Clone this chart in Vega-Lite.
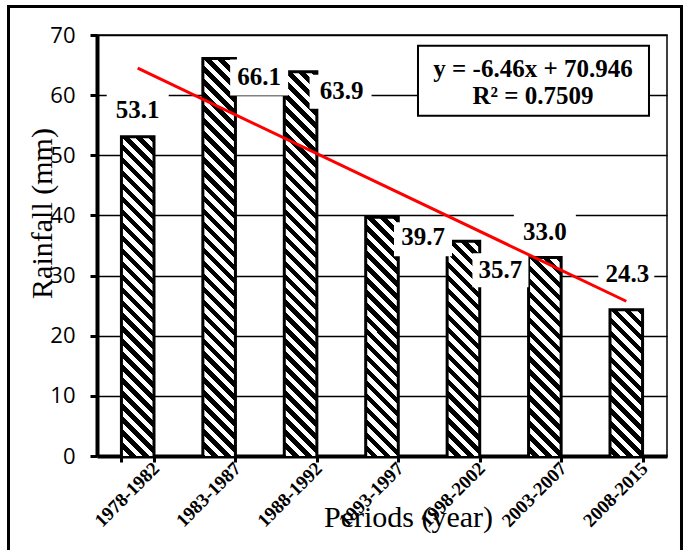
{
  "$schema": "https://vega.github.io/schema/vega-lite/v6.json",
  "width": 570,
  "height": 421,
  "autosize": {"type": "none"},
  "padding": {"left": 97, "top": 35, "right": 19, "bottom": 94},
  "background": "white",
  "config": {"view": {"stroke": "black", "strokeWidth": 1.5}, "font": "Liberation Serif"},
  "data": {"values": [
    {"period": "1978-1982", "rainfall": 53.1},
    {"period": "1983-1987", "rainfall": 66.1},
    {"period": "1988-1992", "rainfall": 63.9},
    {"period": "1993-1997", "rainfall": 39.7},
    {"period": "1998-2002", "rainfall": 35.7},
    {"period": "2003-2007", "rainfall": 33.0},
    {"period": "2008-2015", "rainfall": 24.3}
  ]},
  "layer": [
    {
      "mark": {"type": "bar", "clip": true, "y2Offset": 421, "stroke": "black", "strokeWidth": 3,
        "fill": {"gradient": "linear", "x1": 1, "y1": 0, "x2": 0.9171, "y2": 1.0709, "stops": [
          {"offset":0,"color":"#000"},
          {"offset":0.0143,"color":"#000"},{"offset":0.0143,"color":"#fff"},
          {"offset":0.0286,"color":"#fff"},{"offset":0.0286,"color":"#000"},
          {"offset":0.0429,"color":"#000"},{"offset":0.0429,"color":"#fff"},
          {"offset":0.0571,"color":"#fff"},{"offset":0.0571,"color":"#000"},
          {"offset":0.0714,"color":"#000"},{"offset":0.0714,"color":"#fff"},
          {"offset":0.0857,"color":"#fff"},{"offset":0.0857,"color":"#000"},
          {"offset":0.1,"color":"#000"},{"offset":0.1,"color":"#fff"},
          {"offset":0.1143,"color":"#fff"},{"offset":0.1143,"color":"#000"},
          {"offset":0.1286,"color":"#000"},{"offset":0.1286,"color":"#fff"},
          {"offset":0.1429,"color":"#fff"},{"offset":0.1429,"color":"#000"},
          {"offset":0.1571,"color":"#000"},{"offset":0.1571,"color":"#fff"},
          {"offset":0.1714,"color":"#fff"},{"offset":0.1714,"color":"#000"},
          {"offset":0.1857,"color":"#000"},{"offset":0.1857,"color":"#fff"},
          {"offset":0.2,"color":"#fff"},{"offset":0.2,"color":"#000"},
          {"offset":0.2143,"color":"#000"},{"offset":0.2143,"color":"#fff"},
          {"offset":0.2286,"color":"#fff"},{"offset":0.2286,"color":"#000"},
          {"offset":0.2429,"color":"#000"},{"offset":0.2429,"color":"#fff"},
          {"offset":0.2571,"color":"#fff"},{"offset":0.2571,"color":"#000"},
          {"offset":0.2714,"color":"#000"},{"offset":0.2714,"color":"#fff"},
          {"offset":0.2857,"color":"#fff"},{"offset":0.2857,"color":"#000"},
          {"offset":0.3,"color":"#000"},{"offset":0.3,"color":"#fff"},
          {"offset":0.3143,"color":"#fff"},{"offset":0.3143,"color":"#000"},
          {"offset":0.3286,"color":"#000"},{"offset":0.3286,"color":"#fff"},
          {"offset":0.3429,"color":"#fff"},{"offset":0.3429,"color":"#000"},
          {"offset":0.3571,"color":"#000"},{"offset":0.3571,"color":"#fff"},
          {"offset":0.3714,"color":"#fff"},{"offset":0.3714,"color":"#000"},
          {"offset":0.3857,"color":"#000"},{"offset":0.3857,"color":"#fff"},
          {"offset":0.4,"color":"#fff"},{"offset":0.4,"color":"#000"},
          {"offset":0.4143,"color":"#000"},{"offset":0.4143,"color":"#fff"},
          {"offset":0.4286,"color":"#fff"},{"offset":0.4286,"color":"#000"},
          {"offset":0.4429,"color":"#000"},{"offset":0.4429,"color":"#fff"},
          {"offset":0.4571,"color":"#fff"},{"offset":0.4571,"color":"#000"},
          {"offset":0.4714,"color":"#000"},{"offset":0.4714,"color":"#fff"},
          {"offset":0.4857,"color":"#fff"},{"offset":0.4857,"color":"#000"},
          {"offset":0.5,"color":"#000"},{"offset":0.5,"color":"#fff"},
          {"offset":0.5143,"color":"#fff"},{"offset":0.5143,"color":"#000"},
          {"offset":0.5286,"color":"#000"},{"offset":0.5286,"color":"#fff"},
          {"offset":0.5429,"color":"#fff"},{"offset":0.5429,"color":"#000"},
          {"offset":0.5571,"color":"#000"},{"offset":0.5571,"color":"#fff"},
          {"offset":0.5714,"color":"#fff"},{"offset":0.5714,"color":"#000"},
          {"offset":0.5857,"color":"#000"},{"offset":0.5857,"color":"#fff"},
          {"offset":0.6,"color":"#fff"},{"offset":0.6,"color":"#000"},
          {"offset":0.6143,"color":"#000"},{"offset":0.6143,"color":"#fff"},
          {"offset":0.6286,"color":"#fff"},{"offset":0.6286,"color":"#000"},
          {"offset":0.6429,"color":"#000"},{"offset":0.6429,"color":"#fff"},
          {"offset":0.6571,"color":"#fff"},{"offset":0.6571,"color":"#000"},
          {"offset":0.6714,"color":"#000"},{"offset":0.6714,"color":"#fff"},
          {"offset":0.6857,"color":"#fff"},{"offset":0.6857,"color":"#000"},
          {"offset":0.7,"color":"#000"},{"offset":0.7,"color":"#fff"},
          {"offset":0.7143,"color":"#fff"},{"offset":0.7143,"color":"#000"},
          {"offset":0.7286,"color":"#000"},{"offset":0.7286,"color":"#fff"},
          {"offset":0.7429,"color":"#fff"},{"offset":0.7429,"color":"#000"},
          {"offset":0.7571,"color":"#000"},{"offset":0.7571,"color":"#fff"},
          {"offset":0.7714,"color":"#fff"},{"offset":0.7714,"color":"#000"},
          {"offset":0.7857,"color":"#000"},{"offset":0.7857,"color":"#fff"},
          {"offset":0.8,"color":"#fff"},{"offset":0.8,"color":"#000"},
          {"offset":0.8143,"color":"#000"},{"offset":0.8143,"color":"#fff"},
          {"offset":0.8286,"color":"#fff"},{"offset":0.8286,"color":"#000"},
          {"offset":0.8429,"color":"#000"},{"offset":0.8429,"color":"#fff"},
          {"offset":0.8571,"color":"#fff"},{"offset":0.8571,"color":"#000"},
          {"offset":0.8714,"color":"#000"},{"offset":0.8714,"color":"#fff"},
          {"offset":0.8857,"color":"#fff"},{"offset":0.8857,"color":"#000"},
          {"offset":0.9,"color":"#000"},{"offset":0.9,"color":"#fff"},
          {"offset":0.9143,"color":"#fff"},{"offset":0.9143,"color":"#000"},
          {"offset":0.9286,"color":"#000"},{"offset":0.9286,"color":"#fff"},
          {"offset":0.9429,"color":"#fff"},{"offset":0.9429,"color":"#000"},
          {"offset":0.9571,"color":"#000"},{"offset":0.9571,"color":"#fff"},
          {"offset":0.9714,"color":"#fff"},{"offset":0.9714,"color":"#000"},
          {"offset":0.9857,"color":"#000"},{"offset":0.9857,"color":"#fff"},
          {"offset":1,"color":"#fff"}
        ]}},
      "encoding": {
        "x": {"field": "period", "type": "nominal",
          "scale": {"domain": ["1978-1982","1983-1987","1988-1992","1993-1997","1998-2002","2003-2007","2008-2015"], "paddingInner": 0.6, "paddingOuter": 0.3},
          "axis": {"title": "Periods (year)", "titleFont": "Liberation Serif", "titleFontSize": 30, "titleFontWeight": "normal", "titleColor": "black",
            "titleX": 311, "titleY": 70, "titleAlign": "center", "titleBaseline": "alphabetic",
            "labelAngle": -45, "labelAlign": "right", "labelBaseline": "middle", "labelFont": "Liberation Serif", "labelFontWeight": "bold", "labelFontSize": 19,
            "labelColor": "black", "labelOffset": 18, "labelPadding": 3, "labelOverlap": false, "labelBound": false,
            "tickBand": "extent", "tickSize": 6, "tickWidth": 3, "tickColor": "black", "domainColor": "black", "domainWidth": 4, "grid": false}},
        "y": {"field": "rainfall", "type": "quantitative",
          "scale": {"domain": [0, 70], "nice": false},
          "axis": {"title": "Rainfall (mm)", "titleFont": "Liberation Serif", "titleFontSize": 30, "titleFontWeight": "normal", "titleColor": "black",
            "titleX": -46, "titleY": 178, "titleAlign": "center", "titleBaseline": "alphabetic", "titleAngle": -90,
            "values": [0, 10, 20, 30, 40, 50, 60, 70], "labelFont": "Open Sans", "labelFontSize": 22, "labelColor": "black", "labelPadding": 15,
            "tickSize": 7, "tickWidth": 3, "tickColor": "black", "domainColor": "black", "domainWidth": 4,
            "grid": true, "gridColor": "black", "gridWidth": 1.5}},
        "y2": {"field": "rainfall"}
      }
    },
    {
      "data": {"values": [{}]},
      "mark": {"type": "rect", "fill": "transparent", "stroke": "black", "strokeWidth": 3},
      "encoding": {
        "x": {"datum": "1978-1982", "type": "nominal", "bandPosition": -3.467},
        "x2": {"datum": "2008-2015", "bandPosition": 2.195},
        "y": {"datum": 74.74, "type": "quantitative"},
        "y2": {"datum": -16.1}
      }
    },
    {
      "data": {"values": [{}]},
      "mark": {"type": "rect", "fill": "white", "stroke": "black", "strokeWidth": 2},
      "encoding": {
        "x": {"datum": "1998-2002", "type": "nominal", "bandPosition": -0.895},
        "x2": {"datum": "2008-2015", "bandPosition": 1.197},
        "y": {"datum": 68.22, "type": "quantitative"},
        "y2": {"datum": 56.58}
      }
    },
    {
      "data": {"values": [{}]},
      "mark": {"type": "text", "font": "Liberation Serif", "fontWeight": "bold", "fontSize": 25, "color": "black", "align": "center", "baseline": "middle"},
      "encoding": {
        "x": {"datum": "2003-2007", "type": "nominal", "bandPosition": 0.136},
        "y": {"datum": 64.35, "type": "quantitative"},
        "text": {"value": "y = -6.46x + 70.946"}
      }
    },
    {
      "data": {"values": [{}]},
      "mark": {"type": "text", "font": "Liberation Serif", "fontWeight": "bold", "fontSize": 25, "color": "black", "align": "center", "baseline": "middle"},
      "encoding": {
        "x": {"datum": "2003-2007", "type": "nominal", "bandPosition": 0.136},
        "y": {"datum": 59.86, "type": "quantitative"},
        "text": {"value": "R² = 0.7509"}
      }
    },
    {
      "transform": [{"filter": "datum.period === '1978-1982'"}],
      "encoding": {
        "x": {"field": "period", "type": "nominal"},
        "y": {"field": "rainfall", "type": "quantitative"}
      },
      "layer": [
        {"mark": {"type": "point", "shape": "M-31,-17H31V17H-31Z", "size": 4, "filled": true, "fill": "white", "opacity": 1, "strokeWidth": 0, "xOffset": 0, "yOffset": -27}},
        {"mark": {"type": "text", "font": "Liberation Serif", "fontWeight": "bold", "fontSize": 25, "color": "black", "align": "center", "baseline": "middle", "xOffset": 0, "yOffset": -27},
         "encoding": {"text": {"field": "rainfall", "type": "quantitative", "format": ".1f"}}}
      ]
    },
    {
      "transform": [{"filter": "datum.period === '1983-1987'"}],
      "encoding": {
        "x": {"field": "period", "type": "nominal"},
        "y": {"field": "rainfall", "type": "quantitative"}
      },
      "layer": [
        {"mark": {"type": "point", "shape": "M-29,-18H29V18H-29Z", "size": 4, "filled": true, "fill": "white", "opacity": 1, "strokeWidth": 0, "xOffset": 40, "yOffset": 19}},
        {"mark": {"type": "text", "font": "Liberation Serif", "fontWeight": "bold", "fontSize": 25, "color": "black", "align": "center", "baseline": "middle", "xOffset": 40, "yOffset": 19},
         "encoding": {"text": {"field": "rainfall", "type": "quantitative", "format": ".1f"}}}
      ]
    },
    {
      "transform": [{"filter": "datum.period === '1988-1992'"}],
      "encoding": {
        "x": {"field": "period", "type": "nominal"},
        "y": {"field": "rainfall", "type": "quantitative"}
      },
      "layer": [
        {"mark": {"type": "point", "shape": "M-31,-17H31V17H-31Z", "size": 4, "filled": true, "fill": "white", "opacity": 1, "strokeWidth": 0, "xOffset": 40, "yOffset": 20}},
        {"mark": {"type": "text", "font": "Liberation Serif", "fontWeight": "bold", "fontSize": 25, "color": "black", "align": "center", "baseline": "middle", "xOffset": 41, "yOffset": 19},
         "encoding": {"text": {"field": "rainfall", "type": "quantitative", "format": ".1f"}}}
      ]
    },
    {
      "transform": [{"filter": "datum.period === '1993-1997'"}],
      "encoding": {
        "x": {"field": "period", "type": "nominal"},
        "y": {"field": "rainfall", "type": "quantitative"}
      },
      "layer": [
        {"mark": {"type": "point", "shape": "M-29,-17H29V17H-29Z", "size": 4, "filled": true, "fill": "white", "opacity": 1, "strokeWidth": 0, "xOffset": 41, "yOffset": 22}},
        {"mark": {"type": "text", "font": "Liberation Serif", "fontWeight": "bold", "fontSize": 25, "color": "black", "align": "center", "baseline": "middle", "xOffset": 41, "yOffset": 20},
         "encoding": {"text": {"field": "rainfall", "type": "quantitative", "format": ".1f"}}}
      ]
    },
    {
      "transform": [{"filter": "datum.period === '1998-2002'"}],
      "encoding": {
        "x": {"field": "period", "type": "nominal"},
        "y": {"field": "rainfall", "type": "quantitative"}
      },
      "layer": [
        {"mark": {"type": "point", "shape": "M-28,-17H28V17H-28Z", "size": 4, "filled": true, "fill": "white", "opacity": 1, "strokeWidth": 0, "xOffset": 37, "yOffset": 29}},
        {"mark": {"type": "text", "font": "Liberation Serif", "fontWeight": "bold", "fontSize": 25, "color": "black", "align": "center", "baseline": "middle", "xOffset": 37, "yOffset": 29},
         "encoding": {"text": {"field": "rainfall", "type": "quantitative", "format": ".1f"}}}
      ]
    },
    {
      "transform": [{"filter": "datum.period === '2003-2007'"}],
      "encoding": {
        "x": {"field": "period", "type": "nominal"},
        "y": {"field": "rainfall", "type": "quantitative"}
      },
      "layer": [
        {"mark": {"type": "point", "shape": "M-31,-18H31V18H-31Z", "size": 4, "filled": true, "fill": "white", "opacity": 1, "strokeWidth": 0, "xOffset": 0, "yOffset": -27}},
        {"mark": {"type": "text", "font": "Liberation Serif", "fontWeight": "bold", "fontSize": 25, "color": "black", "align": "center", "baseline": "middle", "xOffset": 0, "yOffset": -26},
         "encoding": {"text": {"field": "rainfall", "type": "quantitative", "format": ".1f"}}}
      ]
    },
    {
      "transform": [{"filter": "datum.period === '2008-2015'"}],
      "encoding": {
        "x": {"field": "period", "type": "nominal"},
        "y": {"field": "rainfall", "type": "quantitative"}
      },
      "layer": [
        {"mark": {"type": "point", "shape": "M-28,-17H28V17H-28Z", "size": 4, "filled": true, "fill": "white", "opacity": 1, "strokeWidth": 0, "xOffset": 0, "yOffset": -36}},
        {"mark": {"type": "text", "font": "Liberation Serif", "fontWeight": "bold", "fontSize": 25, "color": "black", "align": "center", "baseline": "middle", "xOffset": 1, "yOffset": -36},
         "encoding": {"text": {"field": "rainfall", "type": "quantitative", "format": ".1f"}}}
      ]
    },
    {
      "data": {"values": [{"period": "1978-1982", "rainfall": 64.49}, {"period": "2008-2015", "rainfall": 25.73}]},
      "mark": {"type": "line", "color": "#ff0000", "strokeWidth": 3},
      "encoding": {
        "x": {"field": "period", "type": "nominal"},
        "y": {"field": "rainfall", "type": "quantitative"}
      }
    }
  ]
}
